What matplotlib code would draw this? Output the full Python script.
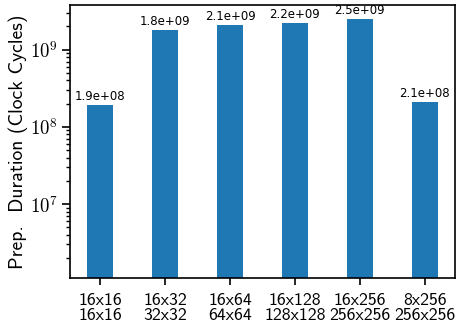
import matplotlib
matplotlib.use("Agg")
import matplotlib.pyplot as plt
import matplotlib.ticker as mticker
import numpy as np

plt.rcParams['mathtext.fontset'] = 'cm'

# Data
top_labels = ['16x16', '16x32', '16x64', '16x128', '16x256', '8x256']
bottom_labels = ['16x16', '32x32', '64x64', '128x128', '256x256', '256x256']
durations = [1.9e8, 1.8e9, 2.1e9, 2.2e9, 2.5e9, 2.1e8]

fig = plt.figure(figsize=(4.57, 3.29), dpi=100)
ax = fig.add_axes([0.153, 0.155, 0.843, 0.830])

x = np.arange(len(durations))
bars = ax.bar(x, durations, width=0.4, color='#1f77b4')
ax.set_yscale('log')
ax.set_ylim(1.1e6, 3.8e9)
ax.bar_label(bars, fmt='%.1e', fontsize=8.5, padding=1.5)


def log_fmt(v, pos):
    e = int(round(np.log10(v)))
    if abs(v - 10.0 ** e) > 1e-6 * v:
        return ''
    return r'$10^{%d}$' % e


ax.yaxis.set_major_formatter(mticker.FuncFormatter(log_fmt))
ax.yaxis.set_minor_formatter(mticker.NullFormatter())

ticklabels = [a + '\n' + b for a, b in zip(top_labels, bottom_labels)]
ax.set_xticks(x)
ax.set_xticklabels(ticklabels, fontsize=12.8, family='cmss10', linespacing=1.05)
ax.tick_params(axis='x', pad=5.5, length=5, width=1.2)
ax.tick_params(axis='y', which='major', labelsize=13.5, length=5.5, width=1.2)
ax.tick_params(axis='y', which='minor', length=3, width=1.0)
for s in ax.spines.values():
    s.set_linewidth(1.2)
ax.set_ylabel('Prep.  Duration (Clock Cycles)', fontsize=14.2, family='cmss10')
ax.yaxis.set_label_coords(-0.11, 0.5)

fig.savefig('out.png', dpi=100)
